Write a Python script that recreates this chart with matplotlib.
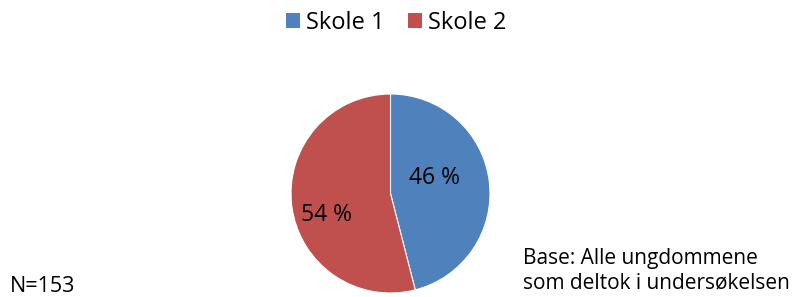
import matplotlib
matplotlib.use('Agg')
import matplotlib.pyplot as plt
from matplotlib.patches import Patch

# data
labels = ['Skole 1', 'Skole 2']
values = [46, 54]
colors = ['#4F81BD', '#C0504D']
pct_text = ['46 %', '54 %']

plt.rcParams['font.family'] = ['Open Sans', 'DejaVu Sans']

fig = plt.figure(figsize=(7.93, 2.97), dpi=100)

# pie axes: center about (390,194) px, radius ~99 px
ax = fig.add_axes([291 / 793, 4 / 297, 199 / 793, 199 / 297])
wedges, _ = ax.pie(values, colors=colors, startangle=90, counterclock=False,
                   radius=1.0, wedgeprops=dict(edgecolor='white', linewidth=0.8))
ax.set_xlim(-1, 1)
ax.set_ylim(-1, 1)
ax.set_aspect('equal')

# label positions (Excel-like placement)
ax.text(0.44, 0.16, pct_text[0], ha='center', va='center', fontsize=16.5)
ax.text(-0.64, -0.22, pct_text[1], ha='center', va='center', fontsize=16.5)

handles = [Patch(facecolor=c, label=l) for c, l in zip(colors, labels)]
fig.legend(handles=handles, loc='center', bbox_to_anchor=(396 / 793, 1 - 23 / 297),
           ncol=2, frameon=False, fontsize=17, handlelength=0.6, handleheight=0.6,
           handletextpad=0.25, columnspacing=1.0)

fig.text(10 / 793, 1 - 286 / 297, 'N=153', ha='left', va='center', fontsize=15.5)
fig.text(523 / 793, 1 - 271 / 297, 'Base: Alle ungdommene\nsom deltok i undersøkelsen',
         ha='left', va='center', fontsize=15, linespacing=1.2)

fig.savefig('out.png', dpi=100)
